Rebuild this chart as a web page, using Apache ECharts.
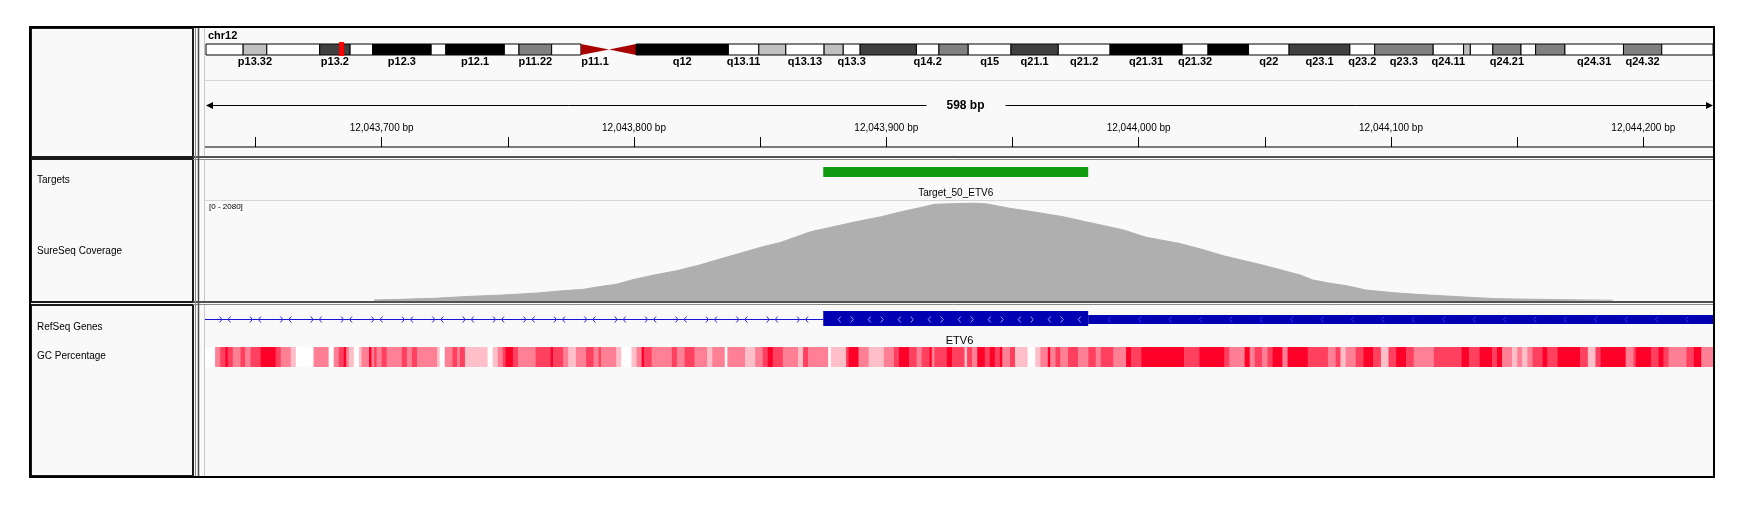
<!DOCTYPE html>
<html><head><meta charset="utf-8">
<script src="https://cdn.jsdelivr.net/npm/echarts@6.0.0/dist/echarts.min.js"></script>
<style>html,body{margin:0;padding:0;background:#fff}#c{width:1749px;height:509px}</style>
</head><body><div id="c"></div>
<script>
// ---------- DATA ----------
const chromName = 'chr12';
const chromLength = 133851895;
const bandName = ['p13.33','p13.32','p13.31','p13.2','p13.1','p12.3','p12.2','p12.1','p11.23','p11.22','p11.21','p11.1','q11','q12','q13.11','q13.12','q13.13','q13.2','q13.3','q14.1','q14.2','q14.3','q15','q21.1','q21.2','q21.31','q21.32','q21.33','q22','q23.1','q23.2','q23.3','q24.11','q24.12','q24.13','q24.21','q24.22','q24.23','q24.31','q24.32','q24.33'];
const bandStart = [0,3300000,5400000,10100000,12800000,14800000,20000000,21300000,26500000,27800000,30700000,33300000,35800000,38200000,46400000,49100000,51500000,54900000,56600000,58100000,63100000,65100000,67700000,71500000,75700000,80300000,86700000,89000000,92600000,96200000,101600000,103800000,109000000,111700000,112300000,114300000,116800000,118100000,120700000,125900000,129300000];
const bandEnd = [3300000,5400000,10100000,12800000,14800000,20000000,21300000,26500000,27800000,30700000,33300000,35800000,38200000,46400000,49100000,51500000,54900000,56600000,58100000,63100000,65100000,67700000,71500000,75700000,80300000,86700000,89000000,92600000,96200000,101600000,103800000,109000000,111700000,112300000,114300000,116800000,118100000,120700000,125900000,129300000,133851895];
const bandStain = ['gneg','gpos25','gneg','gpos75','gneg','gpos100','gneg','gpos100','gneg','gpos50','gneg','acen','acen','gpos100','gneg','gpos25','gneg','gpos25','gneg','gpos75','gneg','gpos50','gneg','gpos75','gneg','gpos100','gneg','gpos100','gneg','gpos75','gneg','gpos50','gneg','gpos25','gneg','gpos50','gneg','gpos50','gneg','gpos50','gneg'];
const bandLabels = ['p13.32','p13.2','p12.3','p12.1','p11.22','p11.1','q12','q13.11','q13.13','q13.3','q14.2','q15','q21.1','q21.2','q21.31','q21.32','q22','q23.1','q23.2','q23.3','q24.11','q24.21','q24.31','q24.32'];

const viewStart = 12043630;
const viewEnd = 12044228;
const rulerTicks = [12043650,12043700,12043750,12043800,12043850,12043900,12043950,12044000,12044050,12044100,12044150,12044200];
const rulerLabels = [12043700,12043800,12043900,12044000,12044100,12044200];

const trackNames = ['Targets','SureSeq Coverage','RefSeq Genes','GC Percentage'];

const targetName = ['Target_50_ETV6'];
const targetStart = [12043875];
const targetEnd = [12043980];

const covMax = 2080;
const covPos = [12043697,12043721,12043730,12043738,12043748,12043755,12043762,12043769,12043780,12043786,12043793,12043799,12043808,12043817,12043826,12043835,12043842,12043851,12043858,12043870,12043878,12043888,12043898,12043906,12043914,12043919,12043931,12043935,12043940,12043949,12043958,12043970,12043979,12043994,12044003,12044016,12044025,12044034,12044049,12044064,12044069,12044076,12044083,12044090,12044101,12044110,12044122,12044134,12044142,12044168,12044188];
const covVal = [20,57,85,106,127,149,170,206,248,303,354,446,552,643,764,906,1012,1152,1241,1471,1564,1683,1789,1895,1988,2052,2073,2080,2058,1967,1895,1789,1683,1507,1352,1224,1097,955,764,552,446,376,318,233,176,142,106,70,49,28,15];

const geneName = 'ETV6';
const geneStart = 11802788;
const exonStart = 12043875;
const cdsEnd = 12043980;
const geneEnd = 12048336;

// GC percentage segments: start offset (bp from viewStart) and value (%)
const gcStartOffset = [0,4,6,8,9,11,14,16,18,22,28,30,34,36,43,49,51,53,55,56,57,59,61,62,65,66,67,68,70,72,78,80,82,84,92,93,95,98,100,101,103,112,114,116,118,119,122,124,131,137,138,142,144,147,151,154,156,157,163,165,169,171,173,174,177,185,187,190,194,199,201,206,207,214,218,221,223,225,229,235,237,239,247,248,254,255,259,263,269,273,275,279,282,284,287,288,289,294,296,301,302,304,306,309,311,313,315,316,319,321,326,329,331,334,335,337,339,342,346,350,353,355,360,365,367,371,388,394,404,406,412,414,416,419,421,423,427,429,437,445,448,450,452,456,459,463,466,469,472,476,479,487,498,501,505,510,512,514,518,520,522,524,526,530,532,536,545,548,551,553,563,566,567,573,576,578,580,587,590,593];
const gcPct = [0,50,75,100,75,50,75,50,75,100, 75,50,25,0,50,0,50,75,100,50, 25,0,25,50,100,50,75,50,75,50, 75,50,75,50,25,0,50,75,50,75, 25,0,25,50,75,100,75,50,75,100, 75,50,25,50,75,50,75,50,25,0, 25,50,100,75,50,75,50,75,50,25, 50,0,50,25,50,75,100,75,50,25, 75,50,0,25,75,100,50,25,50,75, 100,75,50,75,100,50,75,100,75,25, 75,50,100,75,100,75,100,50,75,25, 0,25,50,100,50,75,50,75,50,75, 50,75,50,100,75,100,75,100,75,50, 100,50,75,50,75,100,50,100,75,50, 75,25,50,75,100,75,25,75,100,75, 50,75,100,75,100,75,100,50,25,50, 25,50,75,100,75,100,75,25,75,100, 50,75,100,75,100,75,50,75,100,50];

// ---------- STYLE ----------
const FONT = '"Liberation Sans", Arial, sans-serif';
const stainColor = {gneg:'#ffffff', gpos25:'#c0c0c0', gpos50:'#808080', gpos75:'#404040', gpos100:'#000000'};
const BG = '#f9f9f9';

const chart = echarts.init(document.getElementById('c'), null, {renderer:'canvas'});

function renderBand(params, api){
  const i = params.dataIndex;
  const cs = params.coordSys;
  const x0 = api.coord([api.value(0), 0])[0];
  const x1 = api.coord([api.value(1), 0])[0];
  const top = cs.y, h = cs.height, bottom = top + h;
  const name = bandName[i], st = bandStain[i];
  const ch = [];
  if (st === 'acen') {
    const pts = name[0] === 'p'
      ? [[x0, top], [x1, top + h/2], [x0, bottom]]
      : [[x0, top + h/2], [x1, top], [x1, bottom]];
    ch.push({type:'polygon', shape:{points:pts}, style:{fill:'#a80000'}});
  } else {
    ch.push({type:'rect', shape:{x:x0, y:top, width:x1-x0, height:h}, style:{fill:stainColor[st], stroke:'#000', lineWidth:1}});
  }
  if (bandLabels.indexOf(name) >= 0) {
    ch.push({type:'text', style:{text:name, x:(x0+x1)/2, y:bottom+7, align:'center', verticalAlign:'middle', font:'bold 11px '+FONT, fill:'#000'}});
  }
  return {type:'group', children:ch};
}

function renderMarker(params, api){
  const cs = params.coordSys;
  const x0 = api.coord([api.value(0), 0])[0];
  const x1 = api.coord([api.value(1), 0])[0];
  const w = Math.max(x1 - x0, 5);
  const cx = (x0 + x1)/2;
  return {type:'rect', shape:{x:cx - w/2, y:cs.y - 2, width:w, height:cs.height + 3}, style:{fill:'#ff0000'}};
}

function renderRuler(params, api){
  const cs = params.coordSys;
  const x0 = api.coord([api.value(0), 0])[0];
  const x1 = api.coord([api.value(1), 0])[0];
  const y = cs.y + 24.5;
  const label = (api.value(1) - api.value(0)) + ' bp';
  const cx = (x0 + x1)/2 + 6;
  return {type:'group', children:[
    {type:'line', shape:{x1:x0+6, y1:y, x2:cx-39, y2:y}, style:{stroke:'#000', lineWidth:1}},
    {type:'line', shape:{x1:cx+40, y1:y, x2:x1-6, y2:y}, style:{stroke:'#000', lineWidth:1}},
    {type:'polygon', shape:{points:[[x0+1,y],[x0+8,y-3.5],[x0+8,y+3.5]]}, style:{fill:'#000'}},
    {type:'polygon', shape:{points:[[x1-1,y],[x1-8,y-3.5],[x1-8,y+3.5]]}, style:{fill:'#000'}},
    {type:'text', style:{text:label, x:cx, y:y, align:'center', verticalAlign:'middle', font:'bold 12px '+FONT, fill:'#000'}}
  ]};
}

function renderTarget(params, api){
  const cs = params.coordSys;
  const x0 = api.coord([api.value(0), 0])[0];
  const x1 = api.coord([api.value(1), 0])[0];
  return {type:'group', children:[
    {type:'rect', shape:{x:x0, y:cs.y+7, width:x1-x0, height:10}, style:{fill:'#109a10'}},
    {type:'text', style:{text:targetName[params.dataIndex], x:(x0+x1)/2, y:cs.y+33, align:'center', verticalAlign:'middle', font:'10px '+FONT, fill:'#000'}}
  ]};
}

function chev(x, y, dir, color){
  const d = dir > 0 ? -2.5 : 2.5;
  return {type:'polyline', shape:{points:[[x+d, y-3],[x, y],[x+d, y+3]]}, style:{stroke:color, lineWidth:1, fill:null}};
}

function renderGene(params, api){
  const cs = params.coordSys;
  const L = cs.x, R = cs.x + cs.width;
  const clamp = v => Math.max(L, Math.min(R, v));
  const gS = clamp(api.coord([api.value(0), 0])[0]);
  const eS = clamp(api.coord([api.value(1), 0])[0]);
  const cE = clamp(api.coord([api.value(2), 0])[0]);
  const gE = clamp(api.coord([api.value(3), 0])[0]);
  const y = cs.y + 13.5;
  const ch = [];
  ch.push({type:'line', shape:{x1:gS, y1:y, x2:eS, y2:y}, style:{stroke:'#1414d2', lineWidth:1.2}});
  for (let x = gS + 20; x < eS - 10; x += 30.4) {
    ch.push(chev(x - 3, y, 1, '#2a2ae6'));
    ch.push(chev(x + 3, y, -1, '#2a2ae6'));
  }
  ch.push({type:'rect', shape:{x:eS, y:cs.y+5, width:cE-eS, height:15}, style:{fill:'#0000b2'}});
  ch.push({type:'rect', shape:{x:cE, y:cs.y+9, width:gE-cE, height:9}, style:{fill:'#0000b2'}});
  let k = 0;
  for (let x = eS + 15; x < cE - 6; x += 15, k++) {
    ch.push(chev(x, y, k % 2 === 0 ? -1 : 1, '#9a9aff'));
  }
  for (let x = cE + 20; x < gE - 6; x += 30.4) {
    ch.push(chev(x, y, -1, '#3030ff'));
  }
  ch.push({type:'text', style:{text:geneName, x:(gS+gE)/2, y:cs.y+35, align:'center', verticalAlign:'middle', font:'11px '+FONT, fill:'#000'}});
  return {type:'group', children:ch};
}

function renderGC(params, api){
  const cs = params.coordSys;
  const x0 = api.coord([api.value(0), 0])[0];
  const x1 = api.coord([api.value(1), 0])[0];
  return {type:'rect', shape:{x:x0, y:cs.y, width:x1-x0+0.4, height:cs.height}, style:{fill:api.visual('color')}};
}

// ---------- build series data ----------
const bandData = bandName.map((n, i) => [bandStart[i], bandEnd[i]]);
const covData = covPos.map((p, i) => [p, covVal[i]]);
const targetData = targetStart.map((s, i) => [s, targetEnd[i]]);
const gcData = gcStartOffset.map((o, i) => [viewStart + o, i + 1 < gcStartOffset.length ? viewStart + gcStartOffset[i+1] : viewEnd, gcPct[i]]);

const PL = 205, PW = 1509;
const grids = [
  {left:206, top:44, width:1507, height:11},     // ideogram
  {left:PL, top:81, width:PW, height:66},         // ruler
  {left:PL, top:160, width:PW, height:41},        // targets
  {left:PL, top:203, width:PW, height:98},        // coverage
  {left:PL, top:306, width:PW, height:40},        // genes
  {left:PL, top:347, width:PW, height:20}         // gc
];
const hiddenX = (gi) => ({gridIndex:gi, type:'value', min:viewStart, max:viewEnd, show:false});
const hiddenY = (gi, max) => ({gridIndex:gi, type:'value', min:0, max:max, show:false});

// ---------- decorative frame ----------
const frame = [];
frame.push({type:'rect', z:0, shape:{x:30, y:27, width:1684, height:450}, style:{fill:BG}});
const rows = [[28,157],[159,302],[305,476]];
rows.forEach(r => {
  frame.push({type:'rect', z:50, shape:{x:31, y:r[0], width:162, height:r[1]-r[0]}, style:{fill:null, stroke:'#1a1a1a', lineWidth:2}});
  frame.push({type:'line', z:50, shape:{x1:204.5, y1:r[0], x2:204.5, y2:r[1]}, style:{stroke:'#c8c8c8', lineWidth:1}});
});
frame.push({type:'line', z:50, shape:{x1:193, y1:157, x2:1714, y2:157}, style:{stroke:'#505050', lineWidth:2}});
frame.push({type:'line', z:50, shape:{x1:193, y1:159.5, x2:1714, y2:159.5}, style:{stroke:'#8a8a8a', lineWidth:1}});
frame.push({type:'line', z:50, shape:{x1:193, y1:302, x2:1714, y2:302}, style:{stroke:'#505050', lineWidth:2}});
frame.push({type:'line', z:50, shape:{x1:193, y1:304.5, x2:1714, y2:304.5}, style:{stroke:'#8a8a8a', lineWidth:1}});
frame.push({type:'line', z:50, shape:{x1:195.5, y1:27, x2:195.5, y2:477}, style:{stroke:'#8a8a8a', lineWidth:1}});
frame.push({type:'line', z:50, shape:{x1:198.5, y1:27, x2:198.5, y2:477}, style:{stroke:'#505050', lineWidth:1.5}});
frame.push({type:'line', z:50, shape:{x1:205, y1:80.5, x2:1714, y2:80.5}, style:{stroke:'#d4d4de', lineWidth:1}});
frame.push({type:'line', z:50, shape:{x1:205, y1:200.5, x2:1714, y2:200.5}, style:{stroke:'#d4d4de', lineWidth:1}});
frame.push({type:'rect', z:60, shape:{x:30, y:27, width:1684, height:450}, style:{fill:null, stroke:'#000', lineWidth:2}});
// texts
frame.push({type:'text', z:60, style:{text:chromName, x:208, y:36, verticalAlign:'middle', font:'bold 11px '+FONT, fill:'#000'}});
frame.push({type:'text', z:60, style:{text:'[0 - ' + covMax + ']', x:209, y:207, verticalAlign:'middle', font:'8px '+FONT, fill:'#000'}});
const nameY = [180, 251, 327, 356];
trackNames.forEach((t, i) => frame.push({type:'text', z:60, style:{text:t, x:37, y:nameY[i], verticalAlign:'middle', font:'10px '+FONT, fill:'#000'}}));

const option = {
  animation:false,
  backgroundColor:'#ffffff',
  grid: grids,
  xAxis: [
    {gridIndex:0, type:'value', min:0, max:chromLength, show:false},
    {gridIndex:1, type:'value', min:viewStart, max:viewEnd, position:'bottom',
      axisLine:{show:true, onZero:false, lineStyle:{color:'#7a7a7a', width:2}},
      axisTick:{show:true, inside:true, length:10, customValues:rulerTicks, lineStyle:{color:'#000', width:1}},
      axisLabel:{show:true, inside:true, margin:14, customValues:rulerLabels, formatter:v => Number(v).toLocaleString('en-US') + ' bp', fontSize:10, fontFamily:FONT, color:'#000'},
      splitLine:{show:false}},
    hiddenX(2), hiddenX(3), hiddenX(4), hiddenX(5)
  ],
  yAxis: [hiddenY(0,1), hiddenY(1,1), hiddenY(2,1), hiddenY(3,covMax), hiddenY(4,1), hiddenY(5,1)],
  visualMap: [{type:'continuous', show:false, seriesIndex:7, dimension:2, min:0, max:100, inRange:{color:['#ffffff','#ff0028']}}],
  series: [
    {type:'custom', xAxisIndex:0, yAxisIndex:0, renderItem:renderBand, data:bandData, silent:true},
    {type:'custom', xAxisIndex:0, yAxisIndex:0, renderItem:renderMarker, data:[[viewStart, viewEnd]], silent:true, z:5},
    {type:'custom', xAxisIndex:1, yAxisIndex:1, renderItem:renderRuler, data:[[viewStart, viewEnd]], silent:true},
    {type:'custom', xAxisIndex:2, yAxisIndex:2, renderItem:renderTarget, data:targetData, silent:true},
    {type:'line', xAxisIndex:3, yAxisIndex:3, data:covData, showSymbol:false, symbol:'none', silent:true,
      lineStyle:{color:'#afafaf', width:1}, areaStyle:{color:'#afafaf', opacity:1}},
    {type:'custom', xAxisIndex:4, yAxisIndex:4, renderItem:renderGene, data:[[geneStart, exonStart, cdsEnd, geneEnd]], silent:true},
    {type:'custom', xAxisIndex:5, yAxisIndex:5, renderItem:renderGC, data:[], silent:true},
    {type:'custom', xAxisIndex:5, yAxisIndex:5, renderItem:renderGC, data:gcData, silent:true}
  ],
  graphic: {elements: frame}
};
chart.setOption(option);
</script></body></html>
